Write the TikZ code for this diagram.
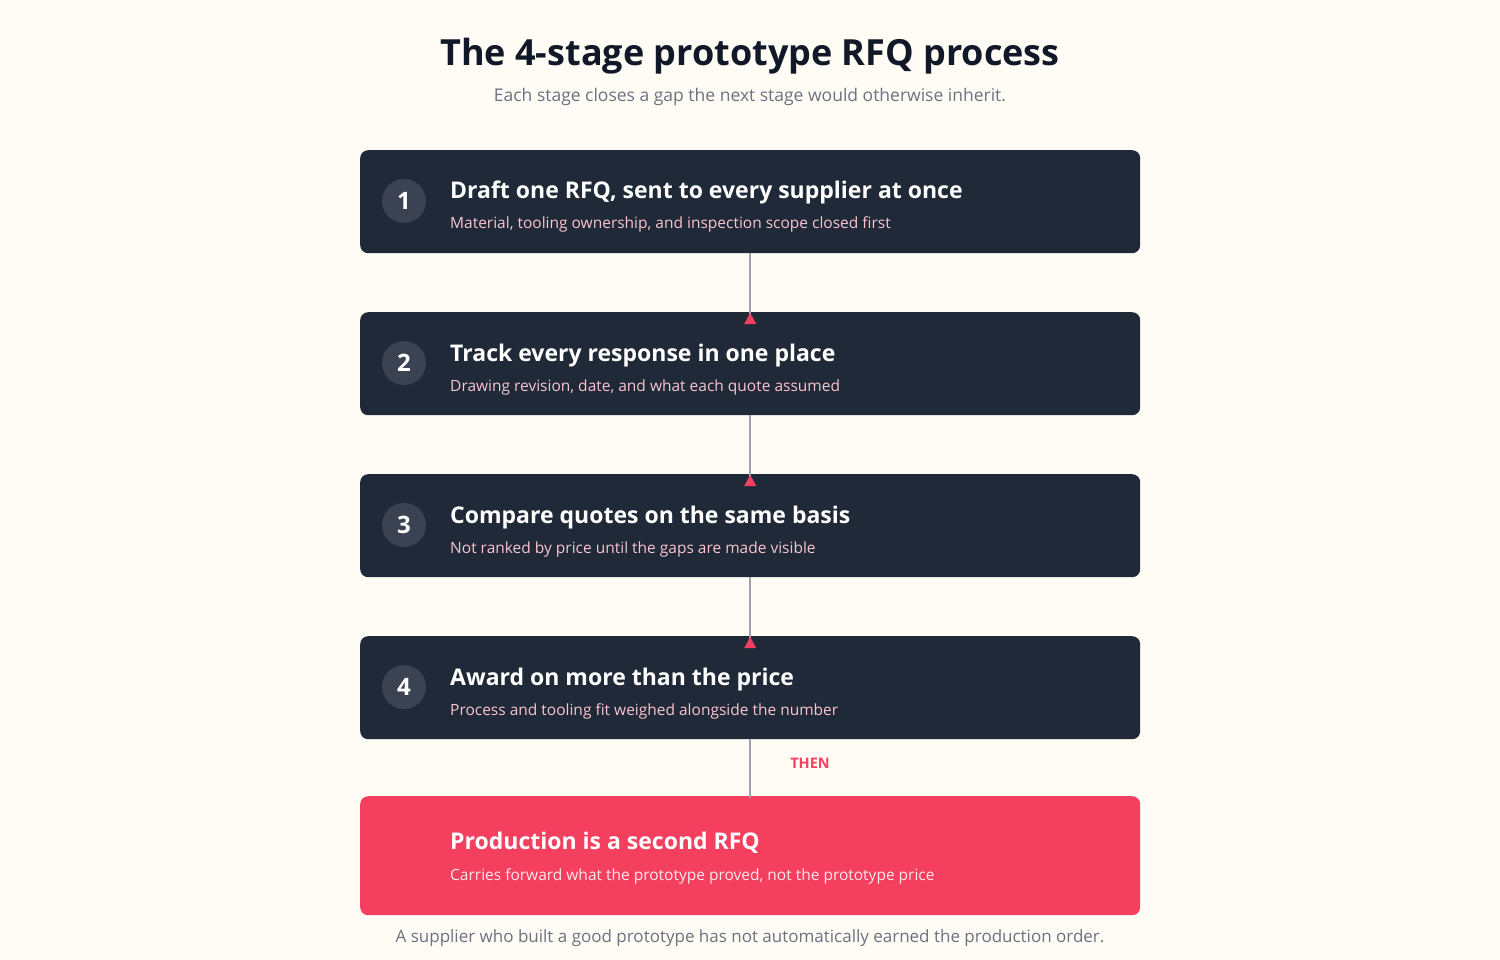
\documentclass[tikz,border=0pt]{standalone}
\usepackage{fontspec}
\setmainfont{Open Sans}
\usetikzlibrary{arrows.meta}
\definecolor{bg}{HTML}{FFFCF5}
\definecolor{navy}{HTML}{1F2937}
\definecolor{ink}{HTML}{111827}
\definecolor{grayt}{HTML}{6B7280}
\definecolor{pinkt}{HTML}{F9C4D0}
\definecolor{red}{HTML}{F43F5E}
\definecolor{circ}{HTML}{3B4353}
\definecolor{conn}{HTML}{9CA3AF}
\begin{document}
\begin{tikzpicture}[x=1pt,y=-1pt,
  box/.style={fill=navy,rounded corners=8pt,minimum width=780pt,minimum height=103pt,inner sep=0pt,anchor=north west},
  num/.style={circle,fill=circ,minimum size=44pt,inner sep=0pt,text=white,font=\fontsize{24}{24}\selectfont\bfseries},
  ttl/.style={anchor=base west,inner sep=0pt,text=white,font=\fontsize{23}{23}\selectfont\bfseries},
  sub/.style={anchor=base west,inner sep=0pt,text=pinkt,font=\fontsize{15.5}{16}\selectfont},
  conn/.style={draw=conn,line width=2pt},
  tip/.style={fill=red,draw=none}]
\fill[bg] (0,0) rectangle (1500,960);
\useasboundingbox (0,0) rectangle (1500,960);
\node[text=ink,font=\fontsize{36}{36}\selectfont\bfseries] (title) at (750,56) {The 4-stage prototype RFQ process};
\node[text=grayt,font=\fontsize{17.5}{18}\selectfont] (subt) at (750,97) {Each stage closes a gap the next stage would otherwise inherit.};
\foreach \i/\y/\t/\s in {1/150/{Draft one RFQ, sent to every supplier at once}/{Material, tooling ownership, and inspection scope closed first},
  2/312/{Track every response in one place}/{Drawing revision, date, and what each quote assumed},
  3/474/{Compare quotes on the same basis}/{Not ranked by price until the gaps are made visible},
  4/636/{Award on more than the price}/{Process and tooling fit weighed alongside the number}}{
  \node[box] (b\i) at (360,\y) {};
  \node[num] (n\i) at (404,\y+51) {\i};
  \node[ttl] (t\i) at (450,\y+49) {\t};
  \node[sub] (s\i) at (450,\y+79) {\s};
}
\node[box,fill=red,minimum height=119pt] (b5) at (360,796) {};
\node[ttl] (t5) at (450,849) {Production is a second RFQ};
\node[sub,text=white!88!red] (s5) at (450,880) {Carries forward what the prototype proved, not the prototype price};
\foreach \a/\b in {1/2,2/3,3/4,4/5}{
  \coordinate (e\a) at ([yshift=-12pt]b\b.north);
  \draw[conn] (b\a.south) -- (e\a);
  \fill[tip] ([xshift=-6pt,yshift=-12pt]b\b.north) -- ([xshift=6pt,yshift=-12pt]b\b.north) -- ([yshift=-1pt]b\b.north) -- cycle;
}
\node[text=red,font=\fontsize{14.5}{15}\selectfont\bfseries] (then) at (810,763) {THEN};
\node[text=grayt,font=\fontsize{17}{17}\selectfont] (foot) at (750,938) {A supplier who built a good prototype has not automatically earned the production order.};
\end{tikzpicture}
\end{document}
